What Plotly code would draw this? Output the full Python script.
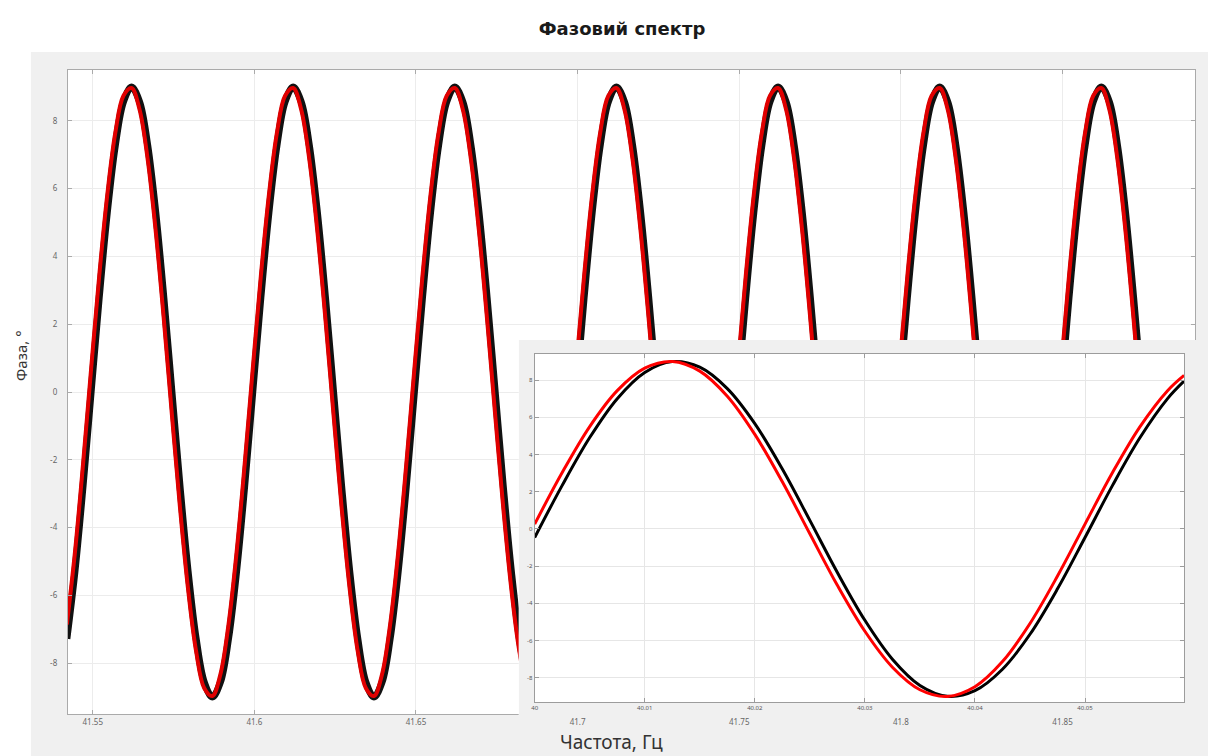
import plotly.graph_objects as go

# ---- data -----------------------------------------------------------------
# Main spectrum: frequency (Hz) and phase (degrees), one row per period
main_freq = [
    41.5420, 41.5445, 41.5470, 41.5495, 41.5520, 41.5545, 41.5570, 41.5595, 41.5620, 41.5645,
    41.5670, 41.5695, 41.5720, 41.5745, 41.5770, 41.5795, 41.5820, 41.5845, 41.5870, 41.5895,
    41.5920, 41.5945, 41.5970, 41.5995, 41.6020, 41.6045, 41.6070, 41.6095, 41.6120, 41.6145,
    41.6170, 41.6195, 41.6220, 41.6245, 41.6270, 41.6295, 41.6320, 41.6345, 41.6370, 41.6395,
    41.6420, 41.6445, 41.6470, 41.6495, 41.6520, 41.6545, 41.6570, 41.6595, 41.6620, 41.6645,
    41.6670, 41.6695, 41.6720, 41.6745, 41.6770, 41.6795, 41.6820, 41.6845, 41.6870, 41.6895,
    41.6920, 41.6945, 41.6970, 41.6995, 41.7020, 41.7045, 41.7070, 41.7095, 41.7120, 41.7145,
    41.7170, 41.7195, 41.7220, 41.7245, 41.7270, 41.7295, 41.7320, 41.7345, 41.7370, 41.7395,
    41.7420, 41.7445, 41.7470, 41.7495, 41.7520, 41.7545, 41.7570, 41.7595, 41.7620, 41.7645,
    41.7670, 41.7695, 41.7720, 41.7745, 41.7770, 41.7795, 41.7820, 41.7845, 41.7870, 41.7895,
    41.7920, 41.7945, 41.7970, 41.7995, 41.8020, 41.8045, 41.8070, 41.8095, 41.8120, 41.8145,
    41.8170, 41.8195, 41.8220, 41.8245, 41.8270, 41.8295, 41.8320, 41.8345, 41.8370, 41.8395,
    41.8420, 41.8445, 41.8470, 41.8495, 41.8520, 41.8545, 41.8570, 41.8595, 41.8620, 41.8645,
    41.8670, 41.8695, 41.8720, 41.8745, 41.8770, 41.8795, 41.8820, 41.8845, 41.8870, 41.8895,
    41.8920,
]
main_phase_black = [
    -7.28, -5.29, -2.78, 0.00, 2.78, 5.29, 7.28, 8.56, 9.00, 8.56,
    7.28, 5.29, 2.78, 0.00, -2.78, -5.29, -7.28, -8.56, -9.00, -8.56,
    -7.28, -5.29, -2.78, 0.00, 2.78, 5.29, 7.28, 8.56, 9.00, 8.56,
    7.28, 5.29, 2.78, 0.00, -2.78, -5.29, -7.28, -8.56, -9.00, -8.56,
    -7.28, -5.29, -2.78, 0.00, 2.78, 5.29, 7.28, 8.56, 9.00, 8.56,
    7.28, 5.29, 2.78, 0.00, -2.78, -5.29, -7.28, -8.56, -9.00, -8.56,
    -7.28, -5.29, -2.78, 0.00, 2.78, 5.29, 7.28, 8.56, 9.00, 8.56,
    7.28, 5.29, 2.78, 0.00, -2.78, -5.29, -7.28, -8.56, -9.00, -8.56,
    -7.28, -5.29, -2.78, 0.00, 2.78, 5.29, 7.28, 8.56, 9.00, 8.56,
    7.28, 5.29, 2.78, 0.00, -2.78, -5.29, -7.28, -8.56, -9.00, -8.56,
    -7.28, -5.29, -2.78, 0.00, 2.78, 5.29, 7.28, 8.56, 9.00, 8.56,
    7.28, 5.29, 2.78, 0.00, -2.78, -5.29, -7.28, -8.56, -9.00, -8.56,
    -7.28, -5.29, -2.78, 0.00, 2.78, 5.29, 7.28, 8.56, 9.00, 8.56,
    7.28, 5.29, 2.78, 0.00, -2.78, -5.29, -7.28, -8.56, -9.00, -8.56,
    -7.28,
]
main_phase_red = [
    -6.86, -4.73, -2.13, 0.68, 3.42, 5.82, 7.66, 8.74, 8.97, 8.33,
    6.86, 4.73, 2.13, -0.68, -3.42, -5.82, -7.66, -8.74, -8.97, -8.33,
    -6.86, -4.73, -2.13, 0.68, 3.42, 5.82, 7.66, 8.74, 8.97, 8.33,
    6.86, 4.73, 2.13, -0.68, -3.42, -5.82, -7.66, -8.74, -8.97, -8.33,
    -6.86, -4.73, -2.13, 0.68, 3.42, 5.82, 7.66, 8.74, 8.97, 8.33,
    6.86, 4.73, 2.13, -0.68, -3.42, -5.82, -7.66, -8.74, -8.97, -8.33,
    -6.86, -4.73, -2.13, 0.68, 3.42, 5.82, 7.66, 8.74, 8.97, 8.33,
    6.86, 4.73, 2.13, -0.68, -3.42, -5.82, -7.66, -8.74, -8.97, -8.33,
    -6.86, -4.73, -2.13, 0.68, 3.42, 5.82, 7.66, 8.74, 8.97, 8.33,
    6.86, 4.73, 2.13, -0.68, -3.42, -5.82, -7.66, -8.74, -8.97, -8.33,
    -6.86, -4.73, -2.13, 0.68, 3.42, 5.82, 7.66, 8.74, 8.97, 8.33,
    6.86, 4.73, 2.13, -0.68, -3.42, -5.82, -7.66, -8.74, -8.97, -8.33,
    -6.86, -4.73, -2.13, 0.68, 3.42, 5.82, 7.66, 8.74, 8.97, 8.33,
    6.86, 4.73, 2.13, -0.68, -3.42, -5.82, -7.66, -8.74, -8.97, -8.33,
    -6.86,
]

# Zoomed segment near 40 Hz
zoom_freq = [
    40.0000, 40.0025, 40.0050, 40.0075, 40.0100, 40.0125, 40.0150, 40.0175,
    40.0200, 40.0225, 40.0250, 40.0275, 40.0300, 40.0325, 40.0350, 40.0375,
    40.0400, 40.0425, 40.0450, 40.0475, 40.0500, 40.0525, 40.0550, 40.0575,
    40.0590,
]
zoom_phase_black = [
    -0.46, 2.34, 4.91, 7.00, 8.41, 8.99, 8.69, 7.54,
    5.66, 3.22, 0.46, -2.34, -4.91, -7.00, -8.41, -8.99,
    -8.69, -7.54, -5.66, -3.22, -0.46, 2.34, 4.91, 7.00,
    7.94,
]
zoom_phase_red = [
    0.26, 3.03, 5.50, 7.43, 8.64, 9.00, 8.48, 7.13,
    5.08, 2.53, -0.26, -3.03, -5.50, -7.43, -8.64, -9.00,
    -8.48, -7.13, -5.08, -2.53, 0.26, 3.03, 5.50, 7.43,
    8.25,
]

# Tick labels
main_xticks = [41.55, 41.60, 41.65, 41.70, 41.75, 41.80, 41.85]
main_xlabels = ["41.55", "41.6", "41.65", "41.7", "41.75", "41.8", "41.85"]
zoom_xticks = [40.00, 40.01, 40.02, 40.03, 40.04, 40.05]
zoom_xlabels = ["40", "40.01", "40.02", "40.03", "40.04", "40.05"]
phase_ticks = [-8, -6, -4, -2, 0, 2, 4, 6, 8]
phase_labels = ["-8", "-6", "-4", "-2", "0", "2", "4", "6", "8"]

# ---- figure ---------------------------------------------------------------
W, H = 1216, 756


def fx(p):
    return p / W


def fy(p):
    return 1 - p / H


FONT = "Noto Sans"
PANEL = "#f0f0f0"

fig = go.Figure()

fig.add_trace(go.Scatter(
    x=main_freq, y=main_phase_black, mode="lines",
    line=dict(color="#111111", width=7, shape="spline"),
    xaxis="x", yaxis="y", showlegend=False, hoverinfo="skip"))
fig.add_trace(go.Scatter(
    x=main_freq, y=main_phase_red, mode="lines",
    line=dict(color="#e00000", width=4, shape="spline"),
    xaxis="x", yaxis="y", showlegend=False, hoverinfo="skip"))

fig.add_trace(go.Scatter(
    x=zoom_freq, y=zoom_phase_black, mode="lines",
    line=dict(color="#000000", width=3, shape="spline"),
    xaxis="x3", yaxis="y3", showlegend=False, hoverinfo="skip"))
fig.add_trace(go.Scatter(
    x=zoom_freq, y=zoom_phase_red, mode="lines",
    line=dict(color="#ff0000", width=3, shape="spline"),
    xaxis="x3", yaxis="y3", showlegend=False, hoverinfo="skip"))

axis_common = dict(
    showline=True, mirror="ticks", ticks="inside", ticklen=4,
    showgrid=True, zeroline=False, fixedrange=True,
)

fig.update_layout(
    width=W, height=H,
    margin=dict(l=0, r=0, t=0, b=0),
    paper_bgcolor="white",
    plot_bgcolor="white",
    showlegend=False,
    title=dict(
        text="<b>Фазовий спектр</b>",
        x=fx(622), xanchor="center", y=fy(29), yanchor="middle",
        font=dict(family="DejaVu Sans", size=18, color="#1a1a1a"),
    ),
    xaxis=dict(
        axis_common, domain=[fx(65), fx(1195)], anchor="y",
        range=[41.5423, 41.891],
        tickmode="array", tickvals=main_xticks, ticktext=main_xlabels,
        linecolor="#aaaaaa", tickcolor="#aaaaaa", gridcolor="#ececec",
        tickfont=dict(family=FONT, size=8, color="#666666"),
    ),
    yaxis=dict(
        axis_common, domain=[fy(714), fy(70)], anchor="x",
        range=[-9.5, 9.5],
        tickmode="array", tickvals=phase_ticks, ticktext=phase_labels,
        linecolor="#aaaaaa", tickcolor="#aaaaaa", gridcolor="#ececec",
        tickfont=dict(family=FONT, size=8, color="#666666"),
        ticklabelstandoff=8,
    ),
    # panel behind the zoomed view
    xaxis2=dict(domain=[fx(517), fx(1197)], anchor="y2", range=[0, 1],
                visible=False, fixedrange=True),
    yaxis2=dict(domain=[fy(716), fy(340)], anchor="x2", range=[0, 1],
                visible=False, fixedrange=True),
    xaxis3=dict(
        axis_common, domain=[fx(533), fx(1184)], anchor="y3",
        range=[40.0, 40.059],
        tickmode="array", tickvals=zoom_xticks, ticktext=zoom_xlabels,
        linecolor="#9c9c9c", tickcolor="#9c9c9c", gridcolor="#e6e6e6",
        tickfont=dict(family=FONT, size=6, color="#555555"),
    ),
    yaxis3=dict(
        axis_common, domain=[fy(702), fy(354)], anchor="x3",
        range=[-9.3, 9.4],
        tickmode="array", tickvals=phase_ticks, ticktext=phase_labels,
        linecolor="#9c9c9c", tickcolor="#9c9c9c", gridcolor="#e6e6e6",
        tickfont=dict(family=FONT, size=6, color="#555555"),
    ),
    shapes=[
        # grey figure panel
        dict(type="rect", xref="paper", yref="paper", layer="below",
             x0=fx(28), x1=fx(1208), y0=0, y1=fy(52),
             fillcolor=PANEL, line=dict(width=0)),
        # white plotting area of the main axes
        dict(type="rect", xref="paper", yref="paper", layer="below",
             x0=fx(65), x1=fx(1195), y0=fy(714), y1=fy(70),
             fillcolor="white", line=dict(width=0)),
        # grey frame around the zoomed view
        dict(type="rect", xref="x2", yref="y2", layer="below",
             x0=0, x1=1, y0=0, y1=1,
             fillcolor=PANEL, line=dict(width=0)),
    ],
    annotations=[
        dict(text="Частота, Гц", xref="paper", yref="paper",
             x=fx(556), xanchor="left", y=fy(742), yanchor="middle",
             showarrow=False,
             font=dict(family=FONT, size=19, color="#333333")),
        dict(text="Фаза, °", xref="paper", yref="paper",
             x=fx(18), xanchor="center", y=fy(355), yanchor="middle",
             textangle=-90, showarrow=False,
             font=dict(family=FONT, size=15, color="#333333")),
    ],
)

fig.write_html("out.html")
